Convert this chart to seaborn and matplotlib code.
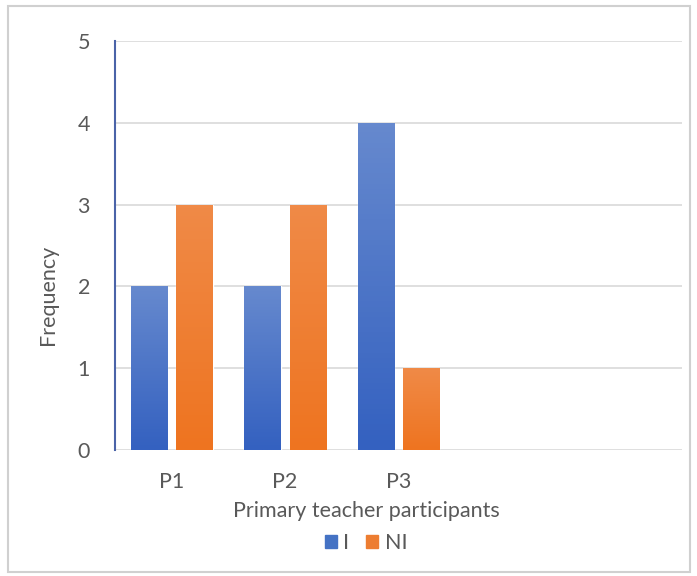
import matplotlib
matplotlib.use("Agg")
import matplotlib.pyplot as plt
import matplotlib.patches as mpatches
import numpy as np
import pandas as pd
import seaborn as sns

# Data
participants = ["P1", "P2", "P3"]
i_values = [2, 2, 4]
ni_values = [3, 3, 1]
series_names = ["I", "NI"]
y_ticks = [0, 1, 2, 3, 4, 5]

colors = {"I": "#4472C4", "NI": "#ED7D31"}
light = {"I": "#6689CE", "NI": "#F08A47"}
dark = {"I": "#3461C0", "NI": "#EE7420"}

df = pd.DataFrame({
    "Participant": participants * 2,
    "Series": ["I"] * len(participants) + ["NI"] * len(participants),
    "Frequency": i_values + ni_values,
})

sns.set_theme(style="white")
plt.rcParams["font.family"] = ["Lato", "DejaVu Sans"]
text_col = "#595959"
fs = 15.5

fig = plt.figure(figsize=(6.97, 5.76), dpi=100)
ax = fig.add_axes([115 / 697, 1 - 450 / 576, 567 / 697, 409 / 576])

sns.barplot(data=df, x="Participant", y="Frequency", hue="Series",
            order=participants, hue_order=series_names, palette=colors,
            width=0.8, gap=0.2, ax=ax, legend=False, zorder=3)

# gradient fill on each bar: light at top, dark at bottom
for patch, name in zip(ax.patches, ["I"] * 3 + ["NI"] * 3):
    x0, y0 = patch.get_x(), patch.get_y()
    w, h = patch.get_width(), patch.get_height()
    c_top = np.array(matplotlib.colors.to_rgb(light[name]))
    c_bot = np.array(matplotlib.colors.to_rgb(dark[name]))
    t = np.linspace(0, 1, 64)[:, None]
    grad = (c_bot * (1 - t) + c_top * t)[:, None, :]
    im = ax.imshow(grad, extent=[x0, x0 + w, y0, y0 + h], aspect="auto",
                   origin="lower", zorder=4)
    im.set_clip_path(patch)

ax.set_xlim(-0.5, 4.5)
ax.set_ylim(0, 5)
ax.set_yticks(y_ticks)
ax.grid(axis="y", color="#D9D9D9", linewidth=1.2, zorder=0)
ax.set_axisbelow(True)
for s in ["top", "right", "bottom"]:
    ax.spines[s].set_visible(False)
ax.spines["left"].set_color("#4A63A8")
ax.spines["left"].set_linewidth(1.5)
ax.tick_params(axis="both", length=0, colors=text_col, labelsize=fs)
ax.tick_params(axis="x", pad=16)
ax.tick_params(axis="y", pad=18)
ax.set_xlabel("")
ax.set_ylabel("Frequency", color=text_col, fontsize=fs)
ax.yaxis.set_label_coords(-0.1, 0.379)

fig.text(366 / 697, 1 - 511 / 576, "Primary teacher participants",
         ha="center", va="center", color=text_col, fontsize=fs)

handles = [mpatches.Patch(color=colors[n], label=n) for n in series_names]
fig.legend(handles=handles, loc="center", bbox_to_anchor=(366 / 697, 1 - 543 / 576),
           ncol=2, frameon=False, fontsize=fs, handlelength=0.55, handleheight=0.55,
           handletextpad=0.3, columnspacing=0.8, labelcolor=text_col)

fig.patches.append(mpatches.Rectangle((8 / 697, 4 / 576), 682 / 697, 566 / 576,
                                      transform=fig.transFigure, fill=False,
                                      edgecolor="#D0D0D0", linewidth=1.5))

fig.savefig("out.png", dpi=100)
